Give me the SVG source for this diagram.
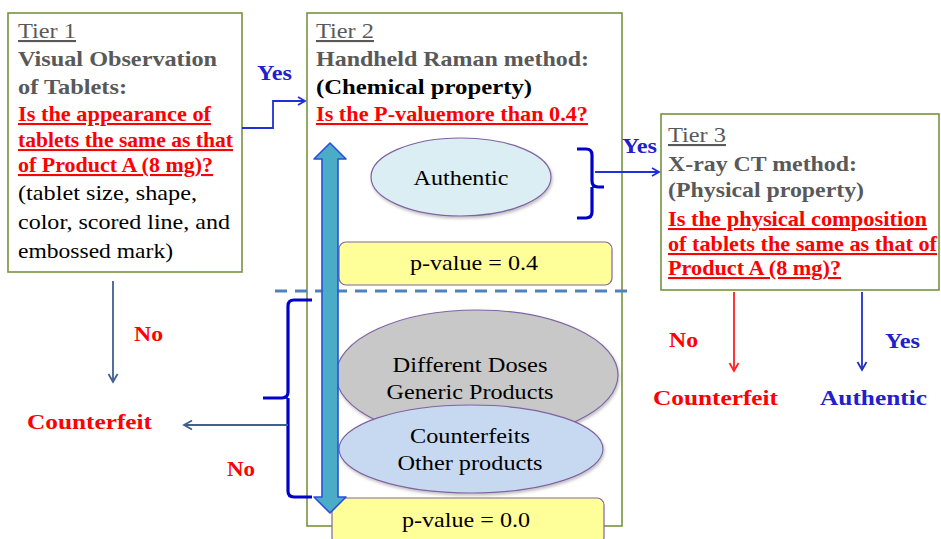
<svg xmlns="http://www.w3.org/2000/svg" width="941" height="539" viewBox="0 0 941 539">
<defs>
<style>
.box{fill:#fff;stroke:#77933C;stroke-width:1.6}
.t{font-family:"Liberation Serif","Times New Roman",serif;font-size:21px}
.g{fill:#595959}
.gb{fill:#595959;font-weight:bold}
.kb{fill:#000;font-weight:bold}
.k{fill:#000}
.r{fill:#FF0000;font-weight:bold;text-decoration:underline}
.rl{fill:#FF0000;font-weight:bold}
.bl{fill:#2020CC;font-weight:bold}
.ell{stroke:#8064A2;stroke-width:1.2}
.pv{fill:#FFFF99;stroke:#8064A2;stroke-width:1.2}
.brk{fill:none;stroke:#0000CC;stroke-width:3.2}
.ca{fill:none;stroke-width:1.8}
</style>
<marker id="ahB" markerWidth="10" markerHeight="10" refX="8" refY="5" orient="auto" markerUnits="userSpaceOnUse"><path d="M1,1 L8,5 L1,9" fill="none" stroke="#2030D8" stroke-width="1.8"/></marker>
<marker id="ahS" markerWidth="12" markerHeight="12" refX="9" refY="6" orient="auto" markerUnits="userSpaceOnUse"><path d="M1,1.5 L9,6 L1,10.5" fill="none" stroke="#3F6090" stroke-width="1.8"/></marker>
<marker id="ahR" markerWidth="12" markerHeight="12" refX="9" refY="6" orient="auto" markerUnits="userSpaceOnUse"><path d="M1,1.5 L9,6 L1,10.5" fill="none" stroke="#FF2020" stroke-width="1.8"/></marker>
<marker id="ahD" markerWidth="12" markerHeight="12" refX="9" refY="6" orient="auto" markerUnits="userSpaceOnUse"><path d="M1,1.5 L9,6 L1,10.5" fill="none" stroke="#2030C8" stroke-width="1.8"/></marker>
<filter id="sh" x="-10%" y="-10%" width="120%" height="130%"><feDropShadow dx="1" dy="2" stdDeviation="1.5" flood-color="#000" flood-opacity="0.25"/></filter>
</defs>

<g id="tier1">
<rect class="box" x="8" y="13" width="234" height="259"/>
<text class="t g" x="18" y="38" text-decoration="underline" textLength="58" lengthAdjust="spacingAndGlyphs">Tier 1</text>
<text class="t gb" x="18" y="66" textLength="199" lengthAdjust="spacingAndGlyphs">Visual Observation</text>
<text class="t gb" x="18" y="94" textLength="109" lengthAdjust="spacingAndGlyphs">of Tablets:</text>
<text class="t r" x="18" y="121" textLength="193" lengthAdjust="spacingAndGlyphs">Is the appearance of</text>
<text class="t r" x="18" y="147" textLength="215" lengthAdjust="spacingAndGlyphs">tablets the same as that</text>
<text class="t r" x="18" y="172" textLength="195" lengthAdjust="spacingAndGlyphs">of Product A (8 mg)?</text>
<text class="t k" x="18" y="200" textLength="179" lengthAdjust="spacingAndGlyphs">(tablet size, shape,</text>
<text class="t k" x="18" y="229" textLength="212" lengthAdjust="spacingAndGlyphs">color, scored line, and</text>
<text class="t k" x="18" y="258" textLength="155" lengthAdjust="spacingAndGlyphs">embossed mark)</text>
</g>

<g id="tier2">
<rect class="box" x="307" y="13" width="315" height="513"/>
<text class="t g" x="316" y="38" text-decoration="underline" textLength="58" lengthAdjust="spacingAndGlyphs">Tier 2</text>
<text class="t gb" x="316" y="66" textLength="273" lengthAdjust="spacingAndGlyphs">Handheld Raman method:</text>
<text class="t kb" x="316" y="94" textLength="216" lengthAdjust="spacingAndGlyphs">(Chemical  property)</text>
<text class="t r" x="316" y="121" textLength="272" lengthAdjust="spacingAndGlyphs">Is the P-valuemore than 0.4?</text>
</g>

<g id="tier3">
<rect class="box" x="661" y="114" width="278" height="176"/>
<text class="t g" x="668" y="142" text-decoration="underline" textLength="58" lengthAdjust="spacingAndGlyphs">Tier 3</text>
<text class="t gb" x="668" y="171" textLength="189" lengthAdjust="spacingAndGlyphs">X-ray  CT method:</text>
<text class="t gb" x="668" y="197" textLength="196" lengthAdjust="spacingAndGlyphs">(Physical property)</text>
<text class="t r" x="668" y="226" textLength="259" lengthAdjust="spacingAndGlyphs">Is the physical  composition</text>
<text class="t r" x="668" y="251" textLength="269" lengthAdjust="spacingAndGlyphs">of tablets the same as that of</text>
<text class="t r" x="668" y="275" textLength="173" lengthAdjust="spacingAndGlyphs">Product A (8 mg)?</text>
</g>

<g id="authentic-ellipse">
<ellipse class="ell" cx="461" cy="177" rx="90" ry="39" fill="#DAEEF3" filter="url(#sh)"/>
<text class="t k" x="461" y="185" text-anchor="middle" textLength="95" lengthAdjust="spacingAndGlyphs">Authentic</text>
</g>

<g id="pvalue-04">
<rect class="pv" x="339" y="242" width="273" height="43" rx="7"/>
<text class="t k" x="474" y="270" text-anchor="middle" textLength="128" lengthAdjust="spacingAndGlyphs">p-value = 0.4</text>
</g>

<g id="generic-ellipse">
<ellipse class="ell" cx="477" cy="375" rx="141" ry="65" fill="#C8C8C8" filter="url(#sh)"/>
<text class="t k" x="470" y="372" text-anchor="middle" textLength="155" lengthAdjust="spacingAndGlyphs">Different Doses</text>
<text class="t k" x="470" y="399" text-anchor="middle" textLength="167" lengthAdjust="spacingAndGlyphs">Generic Products</text>
</g>

<g id="counterfeits-ellipse">
<ellipse class="ell" cx="471" cy="449" rx="132" ry="44" fill="#C6D9F1" filter="url(#sh)"/>
<text class="t k" x="470" y="443" text-anchor="middle" textLength="120" lengthAdjust="spacingAndGlyphs">Counterfeits</text>
<text class="t k" x="470" y="470" text-anchor="middle" textLength="145" lengthAdjust="spacingAndGlyphs">Other products</text>
</g>

<g id="pvalue-00">
<rect class="pv" x="332" y="498" width="272" height="46" rx="7"/>
<text class="t k" x="466" y="527" text-anchor="middle" textLength="128" lengthAdjust="spacingAndGlyphs">p-value = 0.0</text>
</g>

<g id="outcomes">
<text class="t rl" x="27" y="429" textLength="125" lengthAdjust="spacingAndGlyphs">Counterfeit</text>
<text class="t rl" x="653" y="405" textLength="125" lengthAdjust="spacingAndGlyphs">Counterfeit</text>
<text class="t bl" x="820" y="405" textLength="107" lengthAdjust="spacingAndGlyphs">Authentic</text>
</g>

<g id="connectors">
<line x1="275" y1="291" x2="628" y2="291" stroke="#4F81BD" stroke-width="3" stroke-dasharray="12,8"/>
<polyline class="ca" points="242,128 273,128 273,101 305,101" stroke="#2030D8" marker-end="url(#ahB)"/>
<line class="ca" x1="113" y1="281" x2="113" y2="382" stroke="#3F6090" marker-end="url(#ahS)"/>
<path class="brk" d="M577,149 H586 Q592,149 592,155 V181 Q592,187 598,187 H604 M592,187 Q592,193 592,199 V212 Q592,218 586,218 H577"/>
<line class="ca" x1="595" y1="172" x2="659" y2="172" stroke="#2030D8" marker-end="url(#ahB)"/>
<path class="brk" d="M312,300 H294 Q288,300 288,306 V392 Q288,398 282,398 H263 M288,398 Q288,404 288,410 V491 Q288,497 294,497 H312"/>
<line class="ca" x1="288" y1="425" x2="184" y2="425" stroke="#3F6090" marker-end="url(#ahS)"/>
<line class="ca" x1="734" y1="292" x2="734" y2="371" stroke="#FF2020" marker-end="url(#ahR)"/>
<line class="ca" x1="862" y1="292" x2="862" y2="370" stroke="#2030C8" marker-end="url(#ahD)"/>
<path d="M330,143 L346,159 L338,159 L338,497 L346,497 L330,513 L314,497 L322,497 L322,159 L314,159 Z" fill="#4BACC6" stroke="#2A4FE0" stroke-width="1.6" stroke-linejoin="round"/>
</g>

<g id="labels">
<text class="t bl" x="257" y="80" textLength="35" lengthAdjust="spacingAndGlyphs">Yes</text>
<text class="t bl" x="622" y="153" textLength="35" lengthAdjust="spacingAndGlyphs">Yes</text>
<text class="t rl" x="134" y="341" textLength="29" lengthAdjust="spacingAndGlyphs">No</text>
<text class="t rl" x="227" y="476" textLength="28" lengthAdjust="spacingAndGlyphs">No</text>
<text class="t rl" x="669" y="347" textLength="29" lengthAdjust="spacingAndGlyphs">No</text>
<text class="t bl" x="885" y="348" textLength="35" lengthAdjust="spacingAndGlyphs">Yes</text>
</g>
</svg>
